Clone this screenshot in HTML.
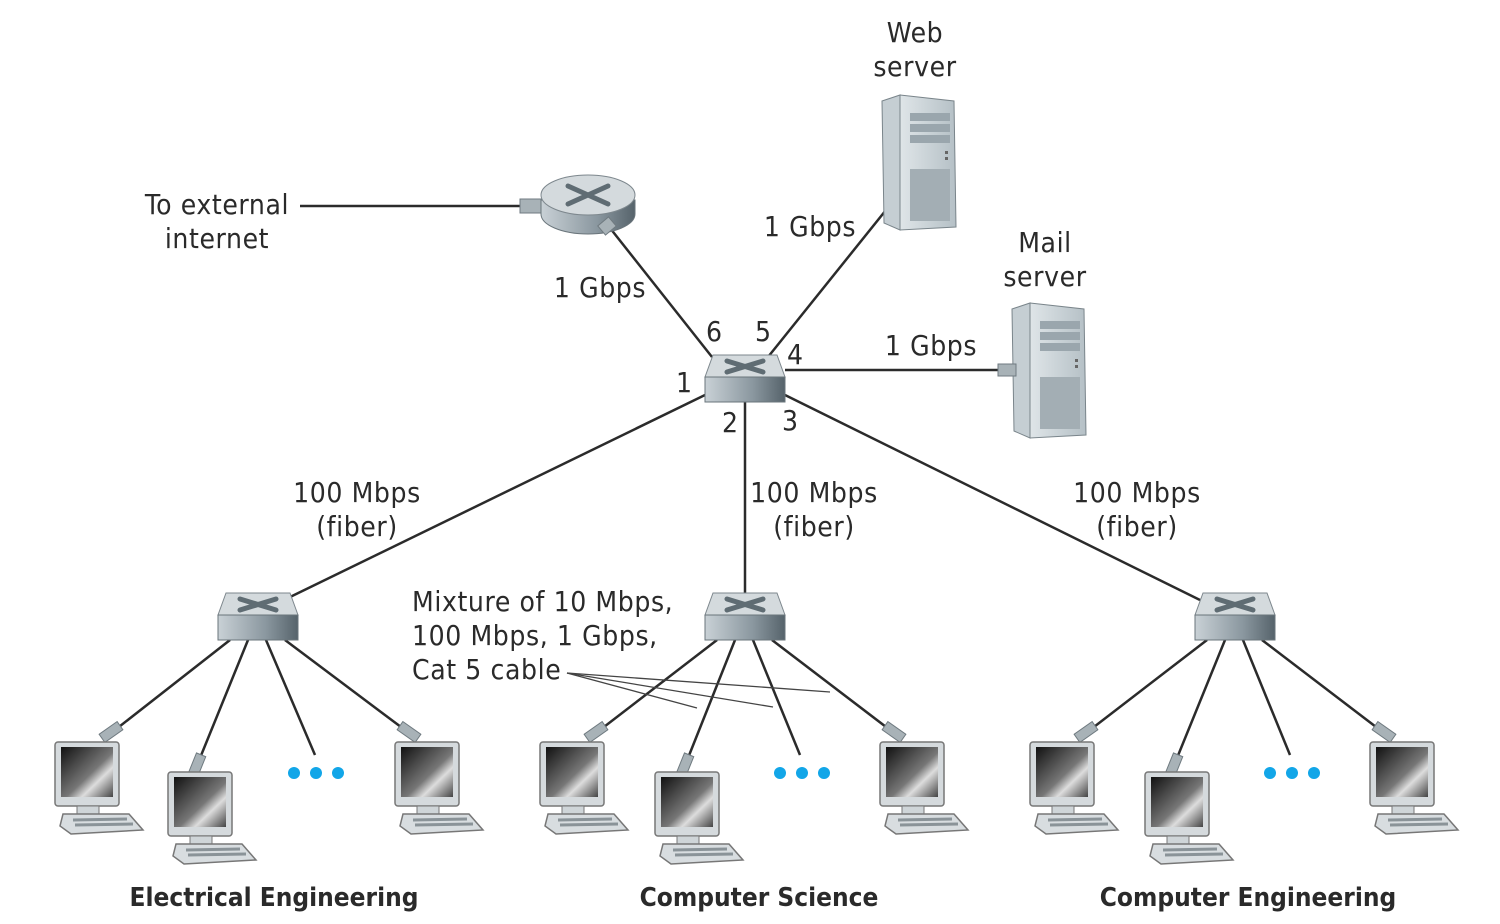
<!DOCTYPE html>
<html><head><meta charset="utf-8"><style>
html,body{margin:0;padding:0;background:#fff;}
svg{display:block;}
text{font-family:"DejaVu Sans Condensed","Liberation Sans",sans-serif;fill:#2a2a2a;font-size:28px;letter-spacing:0.6px;}
.b{font-weight:bold;font-size:26px;letter-spacing:0;}
</style></head><body>
<svg width="1500" height="924" viewBox="0 0 1500 924" xmlns="http://www.w3.org/2000/svg">
<defs>
<linearGradient id="scr" x1="0" y1="0" x2="1" y2="1">
<stop offset="0" stop-color="#111"/><stop offset="0.55" stop-color="#777"/><stop offset="0.7" stop-color="#ddd"/><stop offset="1" stop-color="#444"/></linearGradient>
<linearGradient id="swf" x1="0" y1="0" x2="1" y2="0">
<stop offset="0" stop-color="#c9d1d6"/><stop offset="0.6" stop-color="#8a979f"/><stop offset="1" stop-color="#56636b"/></linearGradient>
<linearGradient id="srv" x1="0" y1="0" x2="1" y2="0">
<stop offset="0" stop-color="#dfe5e8"/><stop offset="1" stop-color="#b5c0c6"/></linearGradient>
<g id="sw">
<polygon points="8,0 72,0 80,22 0,22" fill="#d4dadd" stroke="#7d878d" stroke-width="1"/>
<rect x="0" y="22" width="80" height="25" fill="url(#swf)" stroke="#6a757b" stroke-width="1"/>
<path d="M22,6 L58,17 M58,6 L22,17" stroke="#5f6c73" stroke-width="5" stroke-linecap="round"/>
</g>
<g id="pc">
<rect x="0" y="0" width="64" height="64" rx="3" fill="#d5dadd" stroke="#777" stroke-width="1.5"/>
<rect x="6" y="5" width="52" height="50" fill="url(#scr)"/>
<rect x="22" y="64" width="22" height="8" fill="#cfd5d8" stroke="#777"/>
<polygon points="8,72 74,72 88,88 16,92 5,84" fill="#d8dde0" stroke="#777" stroke-width="1.5"/>
<path d="M18,78 L72,77 M20,83 L78,82" stroke="#8a9398" stroke-width="3"/>
</g>
<g id="server">
<polygon points="0,6 18,0 18,135 2,128" fill="#c5ced3" stroke="#7a858b"/>
<polygon points="18,0 72,6 74,132 18,135" fill="url(#srv)" stroke="#7a858b"/>
<rect x="28" y="18" width="40" height="8" fill="#9aa6ad"/>
<rect x="28" y="29" width="40" height="8" fill="#9aa6ad"/>
<rect x="28" y="40" width="40" height="8" fill="#9aa6ad"/>
<rect x="28" y="74" width="40" height="52" fill="#a3aeb4"/>
<rect x="63" y="56" width="3" height="3" fill="#666"/><rect x="63" y="62" width="3" height="3" fill="#666"/>
</g>
</defs>

<g stroke="#2b2b2b" stroke-width="2.5" fill="none">
<line x1="300" y1="206" x2="525" y2="206"/>
<line x1="610" y1="228" x2="712" y2="357"/>
<line x1="768" y1="357" x2="890" y2="205"/>
<line x1="785" y1="370" x2="1005" y2="370"/>
<line x1="705" y1="395" x2="288" y2="598"/>
<line x1="745" y1="402" x2="745" y2="593"/>
<line x1="785" y1="395" x2="1200" y2="600"/>
<line x1="230" y1="640" x2="115" y2="730"/>
<line x1="248" y1="640" x2="200" y2="758"/>
<line x1="266" y1="640" x2="315" y2="755"/>
<line x1="285" y1="640" x2="405" y2="730"/>
<line x1="717" y1="640" x2="600" y2="730"/>
<line x1="735" y1="640" x2="688" y2="758"/>
<line x1="753" y1="640" x2="800" y2="755"/>
<line x1="772" y1="640" x2="890" y2="730"/>
<line x1="1207" y1="640" x2="1090" y2="730"/>
<line x1="1225" y1="640" x2="1177" y2="758"/>
<line x1="1243" y1="640" x2="1290" y2="755"/>
<line x1="1262" y1="640" x2="1380" y2="730"/>
</g>
<g stroke="#444" stroke-width="1.3">
<line x1="567" y1="673" x2="697" y2="708"/>
<line x1="567" y1="673" x2="773" y2="707"/>
<line x1="567" y1="673" x2="830" y2="692"/>
</g>

<rect x="520" y="199" width="22" height="14" fill="#a8b2b7" stroke="#6f7a80"/>
<path d="M541,200 L541,214 A47,20 0 0 0 635,214 L635,200 Z" fill="url(#swf)" stroke="#6a757b"/>
<ellipse cx="588" cy="195" rx="47" ry="20" fill="#d4dadd" stroke="#7d878d"/>
<path d="M568,186 L608,204 M608,186 L568,204" stroke="#5f6c73" stroke-width="5" stroke-linecap="round"/>
<rect x="600" y="220" width="14" height="12" transform="rotate(-40 607 226)" fill="#a8b2b7" stroke="#6f7a80"/>

<use href="#sw" x="705" y="355"/>
<use href="#sw" x="218" y="593"/>
<use href="#sw" x="705" y="593"/>
<use href="#sw" x="1195" y="593"/>

<use href="#server" x="882" y="95"/>
<use href="#server" x="1012" y="303"/>
<rect x="998" y="364" width="18" height="12" fill="#a8b2b7" stroke="#6f7a80"/>

<g fill="#a8b2b7" stroke="#6f7a80">
<rect x="100" y="727" width="22" height="10" transform="rotate(-35 111 732)"/>
<rect x="192" y="754" width="10" height="22" transform="rotate(22 197 765)"/>
<rect x="398" y="727" width="22" height="10" transform="rotate(35 409 732)"/>
<rect x="585" y="727" width="22" height="10" transform="rotate(-35 596 732)"/>
<rect x="680" y="754" width="10" height="22" transform="rotate(22 685 765)"/>
<rect x="883" y="727" width="22" height="10" transform="rotate(35 894 732)"/>
<rect x="1075" y="727" width="22" height="10" transform="rotate(-35 1086 732)"/>
<rect x="1169" y="754" width="10" height="22" transform="rotate(22 1174 765)"/>
<rect x="1373" y="727" width="22" height="10" transform="rotate(35 1384 732)"/>
</g>

<use href="#pc" x="55" y="742"/>
<use href="#pc" x="168" y="772"/>
<use href="#pc" x="395" y="742"/>
<use href="#pc" x="540" y="742"/>
<use href="#pc" x="655" y="772"/>
<use href="#pc" x="880" y="742"/>
<use href="#pc" x="1030" y="742"/>
<use href="#pc" x="1145" y="772"/>
<use href="#pc" x="1370" y="742"/>

<g fill="#12a6e8">
<circle cx="294" cy="773" r="6"/><circle cx="316" cy="773" r="6"/><circle cx="338" cy="773" r="6"/>
<circle cx="780" cy="773" r="6"/><circle cx="802" cy="773" r="6"/><circle cx="824" cy="773" r="6"/>
<circle cx="1270" cy="773" r="6"/><circle cx="1292" cy="773" r="6"/><circle cx="1314" cy="773" r="6"/>
</g>

<text x="915" y="42" text-anchor="middle">Web</text>
<text x="915" y="76" text-anchor="middle">server</text>
<text x="1045" y="252" text-anchor="middle">Mail</text>
<text x="1045" y="286" text-anchor="middle">server</text>
<text x="217" y="214" text-anchor="middle">To external</text>
<text x="217" y="248" text-anchor="middle">internet</text>
<text x="600" y="297" text-anchor="middle">1 Gbps</text>
<text x="810" y="236" text-anchor="middle">1 Gbps</text>
<text x="931" y="355" text-anchor="middle">1 Gbps</text>
<text x="706" y="341">6</text>
<text x="755" y="341">5</text>
<text x="787" y="364">4</text>
<text x="676" y="392">1</text>
<text x="722" y="432">2</text>
<text x="782" y="430">3</text>
<text x="357" y="502" text-anchor="middle">100 Mbps</text>
<text x="357" y="536" text-anchor="middle">(fiber)</text>
<text x="814" y="502" text-anchor="middle">100 Mbps</text>
<text x="814" y="536" text-anchor="middle">(fiber)</text>
<text x="1137" y="502" text-anchor="middle">100 Mbps</text>
<text x="1137" y="536" text-anchor="middle">(fiber)</text>
<text x="412" y="611">Mixture of 10 Mbps,</text>
<text x="412" y="645">100 Mbps, 1 Gbps,</text>
<text x="412" y="679">Cat 5 cable</text>
<text class="b" x="274" y="906" text-anchor="middle">Electrical Engineering</text>
<text class="b" x="759" y="906" text-anchor="middle">Computer Science</text>
<text class="b" x="1248" y="906" text-anchor="middle">Computer Engineering</text>
</svg>
</body></html>
